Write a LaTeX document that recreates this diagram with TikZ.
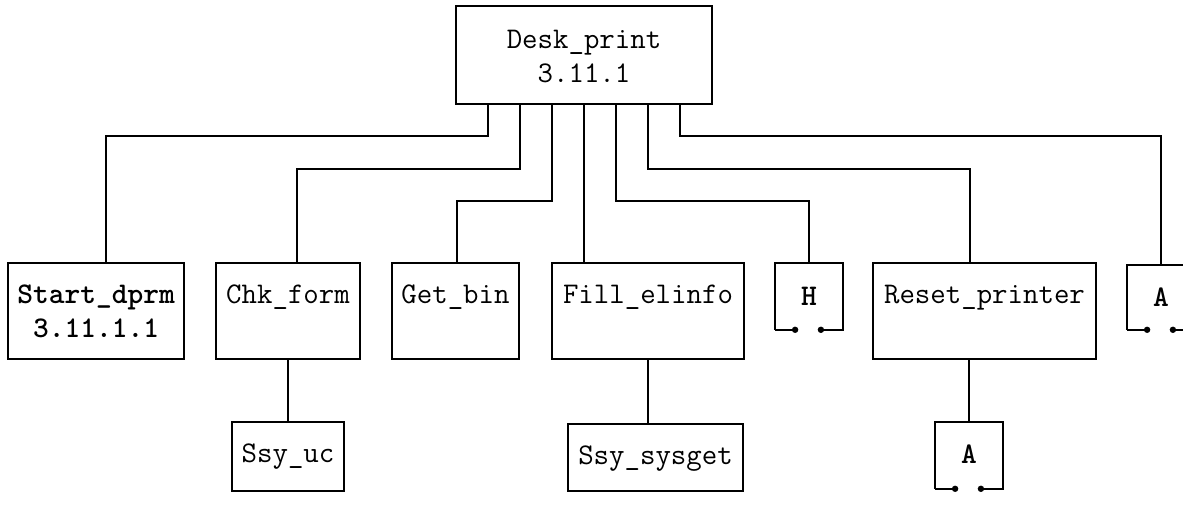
\documentclass[tikz,border=0pt]{standalone}
\usepackage{fontspec}
\usetikzlibrary{calc}

% open box with two dots at the bottom (off-page connector)
\newcommand\offpage[1]{%
  \draw (#1.south west) -- (#1.north west) -- (#1.north east) -- (#1.south east) -- ++(-22,0) coordinate (#1-r);
  \draw (#1.south west) -- ++(20,0) coordinate (#1-l);
  \fill (#1-l) circle (1.6pt) (#1-r) circle (1.6pt);
}

\begin{document}
\begin{tikzpicture}[x=0.5pt, y=-0.5pt, line width=0.9pt,
  mod/.style={draw, anchor=north, inner xsep=0pt, inner ysep=0pt,
    text height=20.5pt, text depth=27.5pt, font=\ttfamily\fontsize{15}{17}\selectfont},
  conn/.style={mod, draw=none, minimum width=33pt, text depth=12pt,
    font=\ttfamily\bfseries\fontsize{15}{17}\selectfont}]
  \useasboundingbox (0,0) rectangle (1183,518);

  % Modulo principale
  \node[mod, minimum width=128pt, text height=21.5pt] (desk) at (584,5)
    {\begin{tabular}[t]{@{}c@{}}Desk\_print\\3.11.1\end{tabular}};

  % Livello 2
  \node[mod, minimum width=88pt, font=\ttfamily\bfseries\fontsize{15}{17}\selectfont] (start) at (96,262)
    {\begin{tabular}[t]{@{}c@{}}Start\_dprm\\3.11.1.1\end{tabular}};
  \node[mod, minimum width=72pt] (chk) at (288,262) {Chk\_form};
  \node[mod, minimum width=63.5pt] (getbin) at (455.5,262) {Get\_bin};
  \node[mod, minimum width=96pt] (fill) at (648,262) {Fill\_elinfo};
  \node[conn, text height=21pt, text depth=11.5pt] (hbox) at (809,263) {H};
  \node[mod, minimum width=111.5pt] (reset) at (984.5,262) {Reset\_printer};
  \node[conn, text depth=11pt] (arbox) at (1161,265) {A};

  % Livello 3
  \node[mod, minimum width=56pt, text depth=14pt] (ssyuc) at (288,421) {Ssy\_uc};
  \node[mod, minimum width=87.5pt, text depth=13pt] (sysget) at (655.5,423) {Ssy\_sysget};
  \node[conn] (abox) at (969,422) {A};

  % Collegamenti
  \foreach \dx/\dy/\xa/\target in {-96/31/106/start, -64/64/297/chk, -32/96/457/getbin,
      32/96/809/hbox, 64/64/970/reset, 96/31/1161/arbox} {
    \draw ($(desk.south)+(\dx,0)$) -- ++(0,\dy) -| (\xa,0 |- \target.north);
  }
  \draw (desk.south) -- (desk.south |- fill.north);
  \draw (ssyuc.north |- chk.south) -- (ssyuc.north);
  \draw (fill.south) -- (fill.south |- sysget.north);
  \draw (abox.north |- reset.south) -- (abox.north);

  % Connettori
  \offpage{hbox}
  \offpage{arbox}
  \offpage{abox}
\end{tikzpicture}
\end{document}
